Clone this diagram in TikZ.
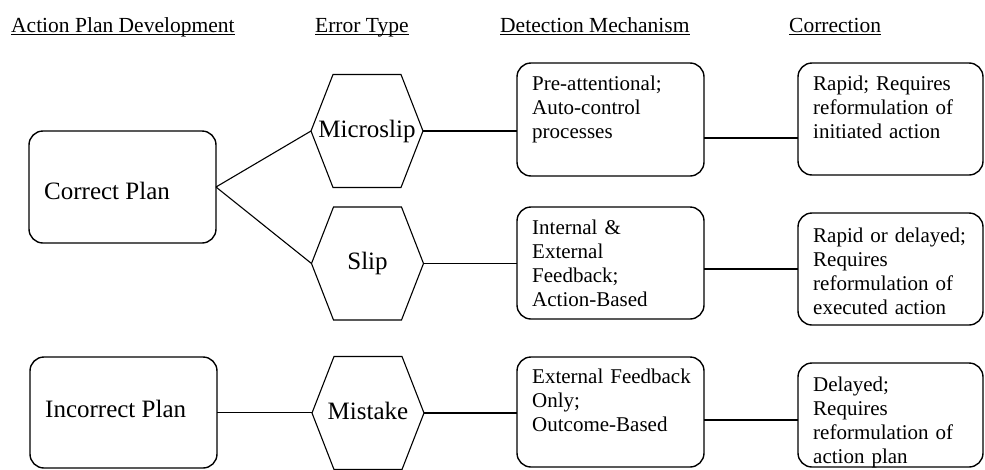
\documentclass[tikz,border=0pt]{standalone}
\usepackage{fontspec}
\setmainfont{Liberation Serif}
\begin{document}
\begin{tikzpicture}[x=1pt,y=-1pt,
  box/.style={draw, rounded corners=14pt, line width=1.4pt, inner sep=0pt, outer sep=0pt},
  hexnode/.style={inner sep=0pt, outer sep=0pt, minimum width=112pt, minimum height=113pt,
    font=\fontsize{25}{30}\selectfont, text height=17pt, text depth=5pt},
  hexline/.style={line width=1.1pt, line join=miter},
  conn/.style={line width=1.1pt},
  big/.style={inner sep=0pt, anchor=base west, font=\fontsize{25}{30}\selectfont},
  txt/.style={inner sep=0pt, anchor=base west, text width=178pt, align=left,
    font=\fontsize{21}{24.2}\selectfont},
  head/.style={inner sep=0pt, anchor=base west, font=\fontsize{21.5}{26}\selectfont},
  uline/.style={line width=0.9pt}]
\useasboundingbox (0,0) rectangle (985,469);

% headers
\node[head] (h1) at (11,32) {Action Plan Development};
\node[head] (h2) at (315,32) {Error Type};
\node[head] (h3) at (500,32) {Detection Mechanism};
\node[head] (h4) at (789,32) {Correction};
\foreach \h in {h1,h2,h3,h4}
  \draw[uline] ([yshift=-2pt]\h.base west) -- ([yshift=-2pt]\h.base east);

% plan boxes
\node[box, minimum width=187pt, minimum height=112pt] (cp) at (122.5,187) {};
\node[big] (cpt) at (44,199) {Correct Plan};
\node[box, minimum width=187pt, minimum height=111pt] (ip) at (123.5,412.5) {};
\node[big] (ipt) at (45,417) {Incorrect Plan};

% error type hexagons
\node[hexnode] (ms) at (367,131) {Microslip};
\node[hexnode] (sl) at (367.5,263.5) {Slip};
\node[hexnode] (mk) at (368,413) {Mistake};
\foreach \h in {ms,sl,mk}
  \draw[hexline] (\h.west) -- ([xshift=22pt]\h.north west) -- ([xshift=-22pt]\h.north east)
    -- (\h.east) -- ([xshift=-22pt]\h.south east) -- ([xshift=22pt]\h.south west) -- cycle;

% detection boxes
\node[box, minimum width=187pt, minimum height=113pt] (d1) at (610.5,119.5) {};
\node[box, minimum width=187pt, minimum height=112pt] (d2) at (610.5,263) {};
\node[box, minimum width=187pt, minimum height=110pt] (d3) at (610.5,412) {};
\node[txt] (d1t) at (532,90) {Pre-attentional;\\Auto-control\\processes};
\node[txt] (d2t) at (532,234) {Internal \&\\External\\Feedback;\\Action-Based};
\node[txt] (d3t) at (532,383) {External Feedback\\Only;\\Outcome-Based};

% correction boxes
\node[box, minimum width=185pt, minimum height=112pt] (c1) at (890.5,119) {};
\node[box, minimum width=185pt, minimum height=112pt] (c2) at (890.5,269) {};
\node[box, minimum width=185pt, minimum height=104pt] (c3) at (890.5,415) {};
\node[txt] (c1t) at (813,90) {Rapid; Requires\\reformulation of\\initiated action};
\node[txt] (c2t) at (813,242) {Rapid or delayed;\\Requires\\reformulation of\\executed action};
\node[txt] (c3t) at (813,391) {Delayed;\\Requires\\reformulation of\\action plan};

% connectors
\draw[conn] (cp.east) -- (ms.west);
\draw[conn] (cp.east) -- (sl.west);
\draw[conn] (ip.east) -- (ip.east -| mk.west);
\draw[conn] (ms.east) -- (ms.east -| d1.west);
\draw[conn] (sl.east) -- (sl.east -| d2.west);
\draw[conn] (mk.east) -- (mk.east -| d3.west);
\draw[conn] ([yshift=-18.5pt]d1.east) -- ([yshift=-18.5pt]d1.east -| c1.west);
\draw[conn] (c2.west -| d2.east) -- (c2.west);
\draw[conn] ([yshift=-8pt]d3.east) -- ([yshift=-8pt]d3.east -| c3.west);
\end{tikzpicture}
\end{document}
